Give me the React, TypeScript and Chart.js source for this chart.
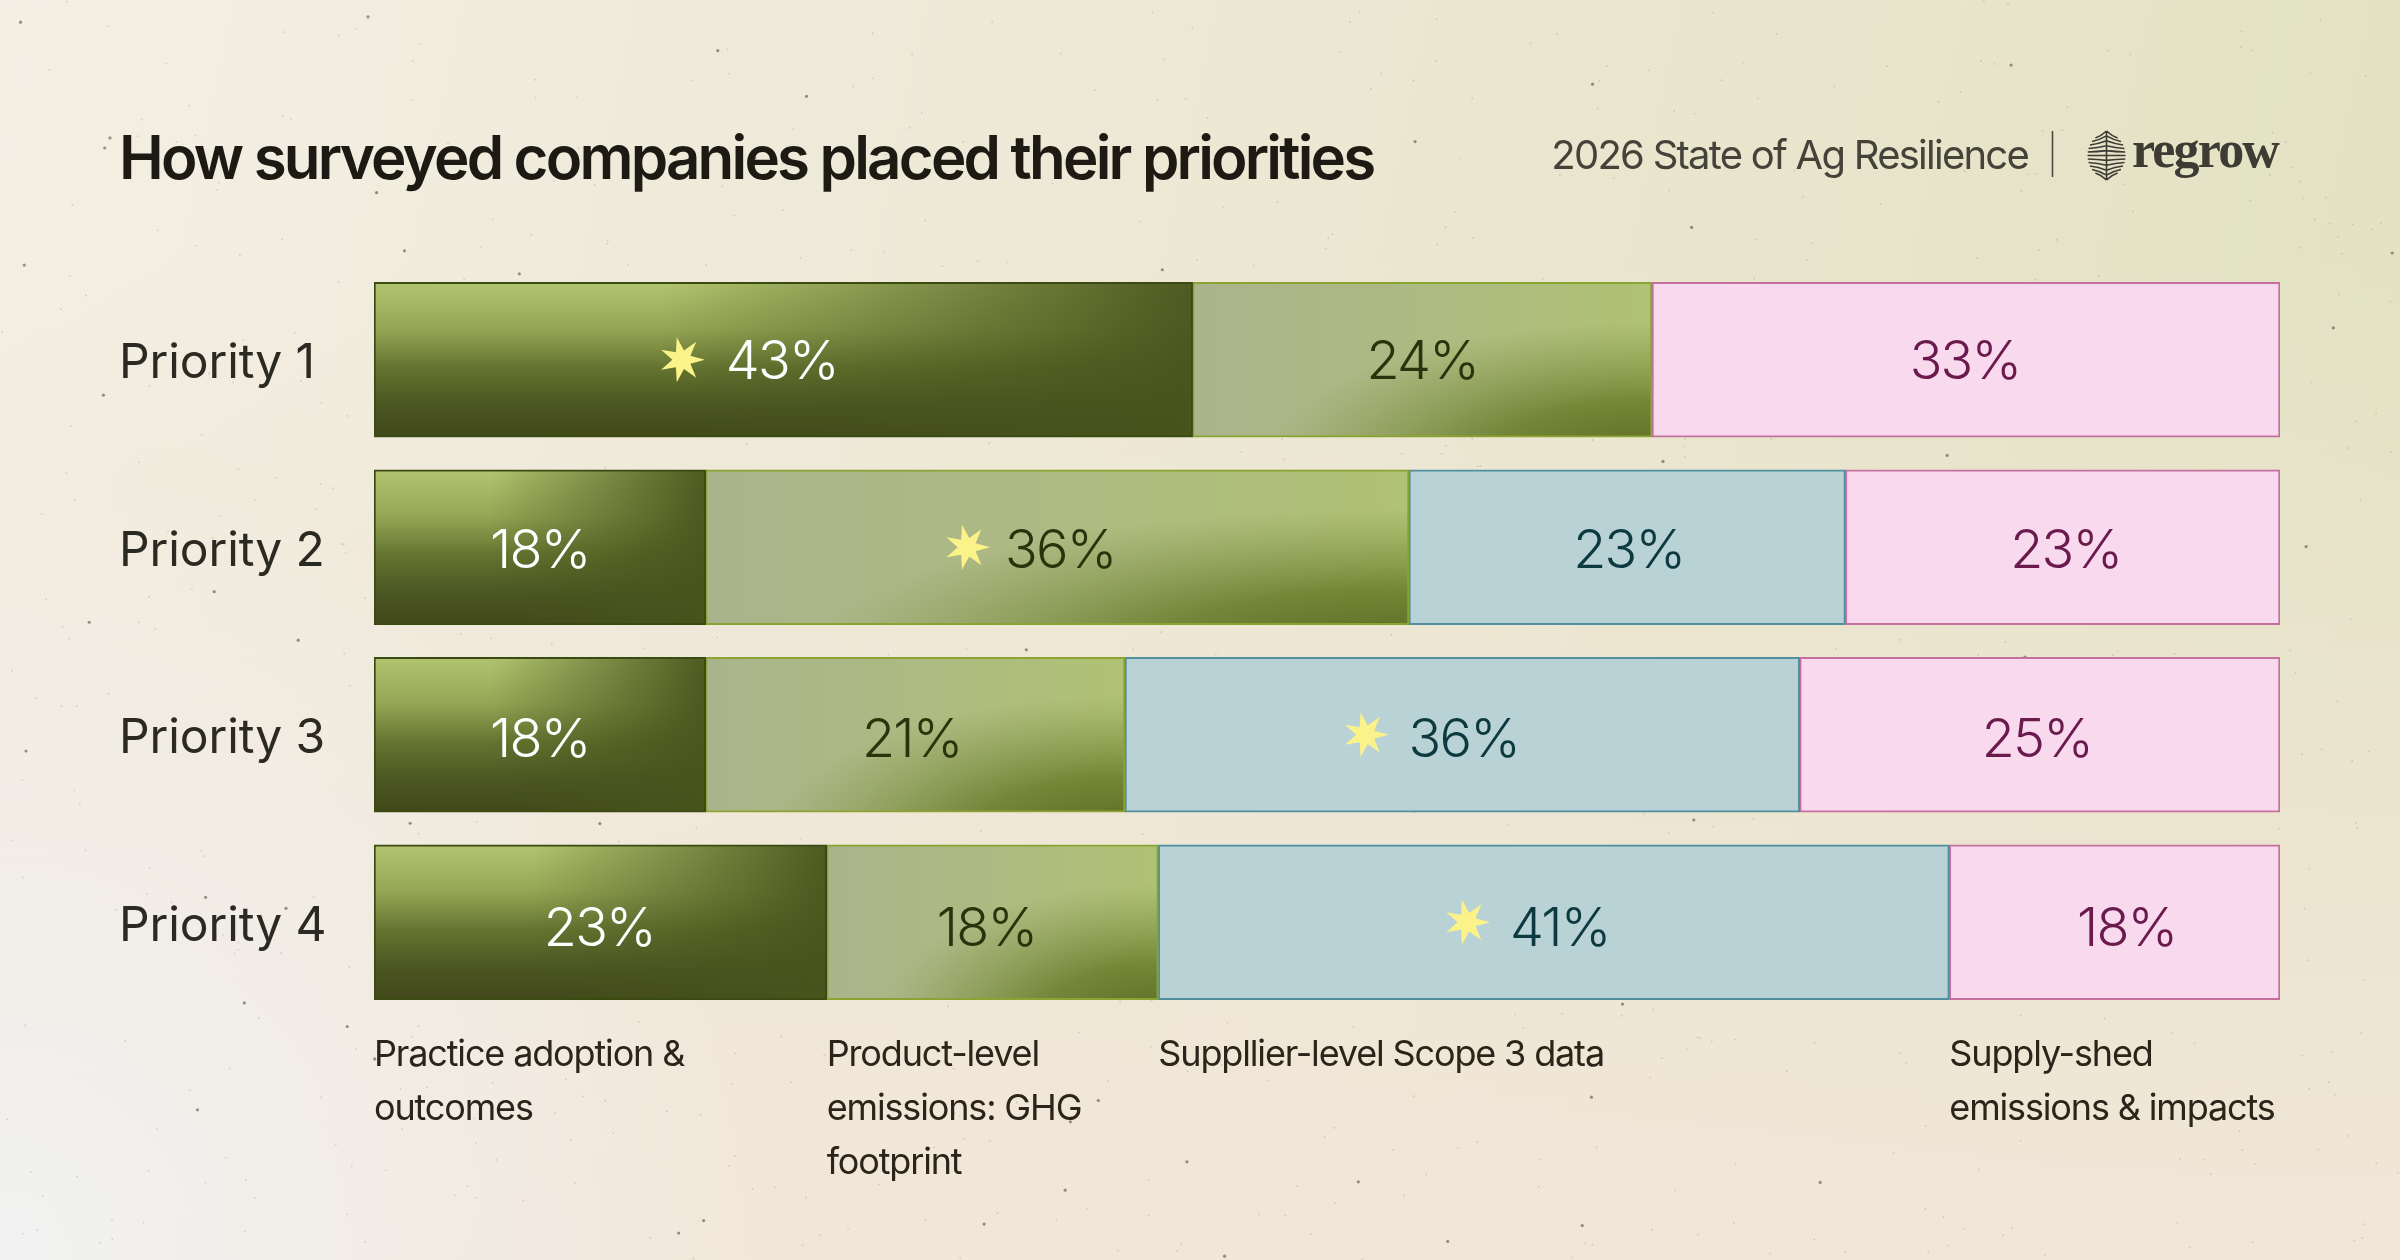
import { useEffect, useRef } from "react"
import { Chart, registerables, type Plugin } from "chart.js"

Chart.register(...registerables)

const titleText = "How surveyed companies placed their priorities"
const reportName = "2026 State of Ag Resilience"
const brandName = "regrow"

const priorities = ["Priority 1", "Priority 2", "Priority 3", "Priority 4"]

// bar lengths as measured in the picture; they differ a little from the printed numbers
const practice = [42.95, 17.4, 17.4, 23.75]
const product = [24.1, 36.9, 22, 17.4]
const supplier = [null, 22.9, 35.4, 41.5]
const supplyShed = [32.95, 22.8, 25.2, 17.35]

const practiceLabels = [43, 18, 18, 23]
const productLabels = [24, 36, 21, 18]
const supplierLabels = [null, 23, 36, 41]
const supplyShedLabels = [33, 23, 25, 18]

const practiceTopic = ["Practice adoption &", "outcomes"]
const productTopic = ["Product-level", "emissions: GHG", "footprint"]
const supplierTopic = ["Suppllier-level Scope 3 data"]
const supplyShedTopic = ["Supply-shed", "emissions & impacts"]

const allLabels = [practiceLabels, productLabels, supplierLabels, supplyShedLabels]
const allTopics = [practiceTopic, productTopic, supplierTopic, supplyShedTopic]
const textColors = ["#ffffff", "#2a340c", "#0d3a40", "#6a1a4c"]

const BAR_HEIGHT = 155

// the printed numbers are not quite centred in the reference; px per row, per series
const labelShiftX = [
  [-1.5, 0, 0, -1],
  [0, 3, 1.5, 3],
  [0, -3.5, 1.5, -3],
  [-1, -6, 6, 12],
]
const labelShiftY = [3, 5, 6, 8]
const starShift = [0, 6, 1, 1]

function paintDark(g: CanvasRenderingContext2D, w: number, h: number) {
  const down = g.createLinearGradient(0, 0, 0, h)
  down.addColorStop(0, "#b3c470")
  down.addColorStop(0.3, "#94a655")
  down.addColorStop(0.55, "#647430")
  down.addColorStop(0.8, "#4b5522")
  down.addColorStop(1, "#41481a")
  g.fillStyle = down
  g.fillRect(0, 0, w, h)
  const across = g.createLinearGradient(0, 0, w, 0)
  across.addColorStop(0.35, "rgba(72,84,28,0)")
  across.addColorStop(1, "rgba(72,84,28,0.95)")
  g.fillStyle = across
  g.fillRect(0, 0, w, h)
}

function paintMid(g: CanvasRenderingContext2D, w: number, h: number) {
  const across = g.createLinearGradient(0, 0, w, 0)
  across.addColorStop(0, "#aab48c")
  across.addColorStop(0.5, "#adba82")
  across.addColorStop(1, "#b0c274")
  g.fillStyle = across
  g.fillRect(0, 0, w, h)
  g.save()
  g.translate(w, h * 1.2)
  g.scale(w * 0.85, h * 0.95)
  const corner = g.createRadialGradient(0, 0, 0, 0, 0, 1)
  corner.addColorStop(0, "rgba(84,100,28,1)")
  corner.addColorStop(0.45, "rgba(100,120,40,0.8)")
  corner.addColorStop(1, "rgba(120,140,60,0)")
  g.fillStyle = corner
  g.fillRect(-1.2, -1.4, 1.2, 1.4)
  g.restore()
}

function segmentFill(painter: typeof paintDark, flat: string) {
  return (c: any) => {
    const { chart, dataIndex, datasetIndex } = c
    if (dataIndex === undefined || !chart.scales.x) return flat
    const data = chart.data.datasets
    let start = 0
    for (let i = 0; i < datasetIndex; i++) start += data[i].data[dataIndex] ?? 0
    const left = chart.scales.x.getPixelForValue(start)
    const right = chart.scales.x.getPixelForValue(start + data[datasetIndex].data[dataIndex])
    const top = chart.scales.y.getPixelForValue(dataIndex) - BAR_HEIGHT / 2
    // scales have no size yet on the first pass
    if (!Number.isFinite(left) || !Number.isFinite(right) || !Number.isFinite(top)) return flat
    const w = Math.max(1, Math.round(right - left))
    const off = document.createElement("canvas")
    off.width = w
    off.height = BAR_HEIGHT
    painter(off.getContext("2d")!, w, BAR_HEIGHT)
    const pattern = chart.ctx.createPattern(off, "no-repeat")
    pattern.setTransform(new DOMMatrix().translate(left, top))
    return pattern
  }
}

// paper background with its gradient and specks
const paperPlugin: Plugin<"bar"> = {
  id: "paper",
  beforeDraw(chart) {
    const { ctx, width, height } = chart
    ctx.save()
    const base = ctx.createLinearGradient(0, 0, width, height * 0.4)
    base.addColorStop(0, "#f3efe4")
    base.addColorStop(0.5, "#ece8d4")
    base.addColorStop(1, "#e2e2c2")
    ctx.fillStyle = base
    ctx.fillRect(0, 0, width, height)
    const low = ctx.createLinearGradient(0, height * 0.2, 0, height)
    low.addColorStop(0, "rgba(242,230,216,0)")
    low.addColorStop(1, "rgba(242,230,216,1)")
    ctx.fillStyle = low
    ctx.fillRect(0, 0, width, height)
    const pale = ctx.createRadialGradient(0, height, 0, 0, height, 800)
    pale.addColorStop(0, "rgba(241,242,242,1)")
    pale.addColorStop(1, "rgba(241,242,242,0)")
    ctx.fillStyle = pale
    ctx.fillRect(0, 0, width, height)
    let seed = 90817
    const next = () => {
      seed = (seed * 1664525 + 1013904223) % 4294967296
      return seed / 4294967296
    }
    for (let i = 0; i < 900; i++) {
      const big = next() > 0.9
      ctx.fillStyle = `rgba(70,66,55,${big ? 0.55 : 0.18})`
      ctx.beginPath()
      ctx.arc(next() * width, next() * height, big ? 1.6 : 0.9, 0, Math.PI * 2)
      ctx.fill()
    }
    ctx.restore()
    // title is drawn by the title plugin right after this hook
    ;(ctx as any).letterSpacing = "-2.8px"
  },
  beforeDatasetsDraw(chart) {
    ;(chart.ctx as any).letterSpacing = "-0.1px"
  },
}

// seven pointed star, one ray pointing right
function drawStar(ctx: CanvasRenderingContext2D, x: number, y: number) {
  ctx.beginPath()
  for (let i = 0; i < 14; i++) {
    const a = (i * Math.PI) / 7
    const r = i % 2 ? 9.5 : 23
    ctx.lineTo(x + Math.cos(a) * r, y + Math.sin(a) * r)
  }
  ctx.closePath()
  ctx.fillStyle = "#fbf28a"
  ctx.fill()
}

// printed percentages, stars on the biggest share per row, and topic captions below
const labelsPlugin: Plugin<"bar"> = {
  id: "segmentLabels",
  afterDatasetsDraw(chart) {
    const { ctx } = chart
    const x = chart.scales.x
    const y = chart.scales.y
    ctx.save()
    ;(ctx as any).letterSpacing = "-1.8px"
    ctx.textBaseline = "middle"
    ctx.textAlign = "center"
    ctx.font = "350 54px Inter"
    priorities.forEach((_, row) => {
      let start = 0
      const top = Math.max(...allLabels.map((l) => l[row] ?? 0))
      chart.data.datasets.forEach((ds, d) => {
        const size = ds.data[row] as number | null
        const printed = allLabels[d][row]
        if (size == null || printed == null) return
        const cx = x.getPixelForValue(start + size / 2) + labelShiftX[row][d]
        const cy = y.getPixelForValue(row)
        const text = `${printed}%`
        ctx.fillStyle = textColors[d]
        ctx.fillText(text, cx, cy + labelShiftY[row])
        if (printed === top) {
          drawStar(ctx, cx - ctx.measureText(text).width / 2 - 44 + starShift[row], cy)
        }
        start += size
      })
    })
    ctx.textAlign = "left"
    ctx.textBaseline = "alphabetic"
    ctx.font = "400 36px Inter"
    ;(ctx as any).letterSpacing = "-1.15px"
    ctx.fillStyle = "#2a241a"
    const last = priorities.length - 1
    let start = 0
    chart.data.datasets.forEach((ds, d) => {
      const left = x.getPixelForValue(start)
      allTopics[d].forEach((line, i) => ctx.fillText(line, left, 1066 + i * 54))
      start += (ds.data[last] as number) ?? 0
    })
    ctx.restore()
  },
}

// report name, divider and wordmark at the top right
const headerPlugin: Plugin<"bar"> = {
  id: "header",
  afterDraw(chart) {
    const { ctx } = chart
    ctx.save()
    ;(ctx as any).letterSpacing = "-1.75px"
    ctx.fillStyle = "#45423a"
    ctx.font = "400 40px Inter"
    ctx.textBaseline = "alphabetic"
    ctx.textAlign = "right"
    ctx.fillText(reportName, 2028, 169)
    ctx.strokeStyle = "#45423a"
    ctx.lineWidth = 1.5
    ctx.beginPath()
    ctx.moveTo(2052.5, 131)
    ctx.lineTo(2052.5, 177)
    ctx.stroke()

    // leaf mark: stem with bowed veins that turn into branches at both ends
    ctx.strokeStyle = "#3e3b35"
    ctx.lineWidth = 1.6
    const cx = 2106.5
    const cy = 155.5
    ctx.beginPath()
    ctx.moveTo(cx, cy - 24)
    ctx.lineTo(cx, cy + 24)
    for (let i = -5; i <= 5; i++) {
      const yy = cy + i * 4.2
      const half = 19 * Math.sqrt(1 - (i * i) / 38)
      const lift = Math.sign(i) * Math.abs(i) * 0.7
      ctx.moveTo(cx - half, yy - lift)
      ctx.quadraticCurveTo(cx - half / 2, yy - lift / 2, cx, yy + lift)
      ctx.moveTo(cx + half, yy - lift)
      ctx.quadraticCurveTo(cx + half / 2, yy - lift / 2, cx, yy + lift)
    }
    ctx.stroke()

    ctx.fillStyle = "#3e3b35"
    ctx.font = "700 52px 'Liberation Serif'"
    ;(ctx as any).letterSpacing = "-1.8px"
    ctx.textAlign = "left"
    ctx.fillText(brandName, 2132, 167)
    ctx.restore()
  },
}

export default function App() {
  const canvasRef = useRef<HTMLCanvasElement>(null)

  useEffect(() => {
    if (!canvasRef.current) return
    document.body.style.margin = "0"

    const chart = new Chart(canvasRef.current, {
      type: "bar",
      data: {
        labels: priorities,
        datasets: [
          {
            label: practiceTopic.join(" "),
            data: practice,
            backgroundColor: segmentFill(paintDark, "#647430"),
            borderColor: "#3b4a10",
          },
          {
            label: productTopic.join(" "),
            data: product,
            backgroundColor: segmentFill(paintMid, "#adba82"),
            borderColor: "#8aa332",
          },
          {
            label: supplierTopic.join(" "),
            data: supplier,
            backgroundColor: "#b8d2d6",
            borderColor: "#4f8f9e",
          },
          {
            label: supplyShedTopic.join(" "),
            data: supplyShed,
            backgroundColor: "#f9d9ee",
            borderColor: "#c56f9f",
          },
        ],
      },
      options: {
        indexAxis: "y",
        responsive: false,
        animation: false,
        devicePixelRatio: 1,
        events: [],
        layout: { padding: { left: 119, right: 120, top: 0, bottom: 244 } },
        datasets: {
          bar: { barThickness: BAR_HEIGHT, borderWidth: 2, borderSkipped: false },
        },
        scales: {
          x: { stacked: true, min: 0, max: 100, display: false },
          y: {
            stacked: true,
            grid: { display: false },
            border: { display: false },
            afterFit: (scale) => {
              scale.width = 255
            },
            ticks: {
              z: 1,
              crossAlign: "far",
              color: "#2b2a22",
              padding: 0,
              labelOffset: 4,
              font: { family: "Inter", size: 48, weight: 400 },
            },
          },
        },
        plugins: {
          legend: { display: false },
          tooltip: { enabled: false },
          title: {
            display: true,
            text: titleText,
            align: "start",
            color: "#1d1a14",
            padding: { top: 125, bottom: 69 },
            font: { family: "Inter", size: 60, weight: 600, lineHeight: 1.2 },
          },
        },
      },
      plugins: [paperPlugin, labelsPlugin, headerPlugin],
    })

    return () => chart.destroy()
  }, [])

  return <canvas ref={canvasRef} width={2400} height={1260} style={{ display: "block" }} />
}
